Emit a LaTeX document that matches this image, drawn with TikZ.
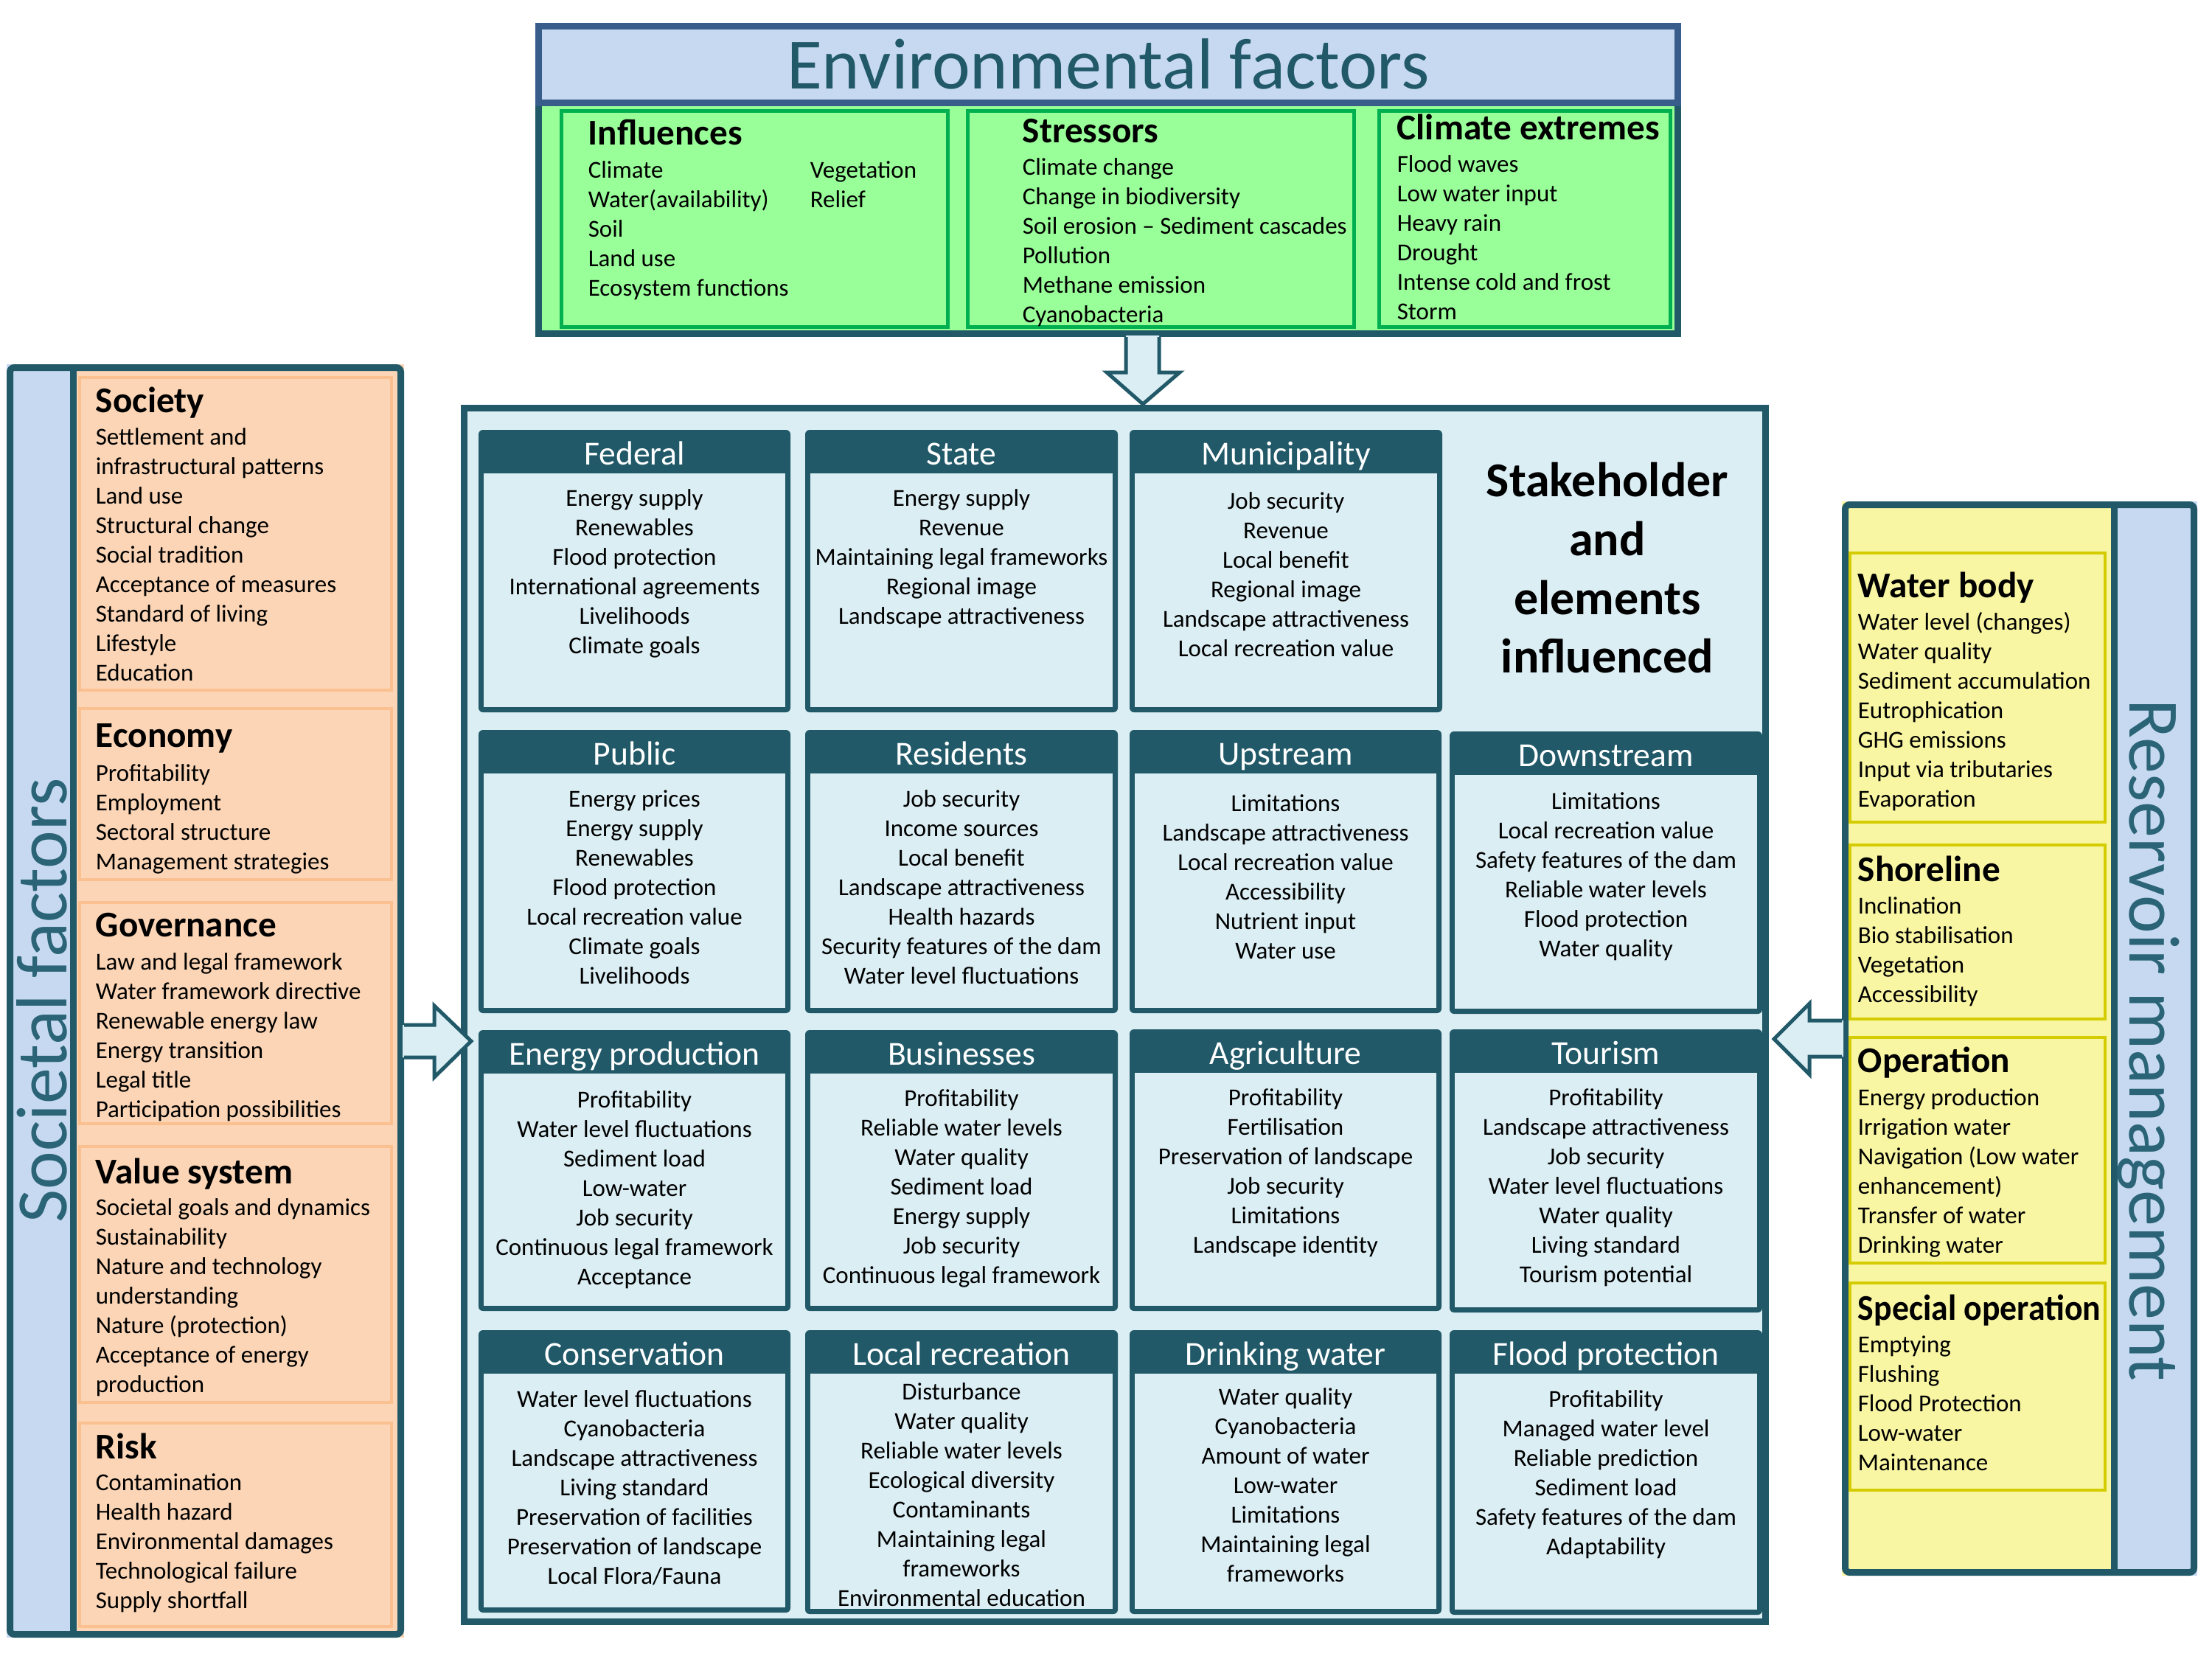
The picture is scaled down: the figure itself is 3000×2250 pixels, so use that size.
\documentclass[tikz,border=0pt]{standalone}
\usepackage{fontspec}
\setmainfont{Carlito}
\definecolor{tealx}{HTML}{215968}
\definecolor{sidetxt}{HTML}{2A6476}
\definecolor{aqua}{HTML}{DBEEF4}
\definecolor{lblue}{HTML}{C6D9F1}
\definecolor{orfill}{HTML}{FBD5B5}
\definecolor{ordraw}{HTML}{FAC090}
\definecolor{gfill}{HTML}{99FF99}
\definecolor{gdraw}{HTML}{00B050}
\definecolor{hblue}{HTML}{385D8A}
\definecolor{yfill}{HTML}{F8F6A2}
\definecolor{ydraw}{HTML}{D4CC00}
\tikzset{
  bigtxt/.style={font=\fontsize{24.5}{29}\selectfont, text=tealx, inner sep=0pt, anchor=base},
  sidelbl/.style={font=\fontsize{24.5}{29}\selectfont, text=sidetxt, inner sep=0pt, anchor=base},
  ptitle/.style={font=\fontsize{12.3}{15}\selectfont\bfseries, inner sep=0pt, anchor=base west},
  pitem/.style={font=\fontsize{8.25}{10}\selectfont, inner sep=0pt, anchor=base west},
  hdr/.style={font=\fontsize{11.4}{14}\selectfont, text=white, inner sep=0pt, anchor=base},
  btxt/.style={font=\fontsize{8.25}{10}\selectfont, inner sep=0pt, anchor=base},
  stk/.style={font=\fontsize{16.5}{20}\selectfont\bfseries, inner sep=0pt, anchor=base},
  thick border/.style={line width=2.25pt},
  blockarrow/.style={draw=tealx, line width=1.25pt, line join=miter},
  orbox/.style={fill=orfill, draw=ordraw, line width=1pt},
  ybox/.style={fill=yfill, draw=ydraw, line width=1pt},
  gbox/.style={fill=gfill, draw=gdraw, line width=1.25pt}
}
% stakeholder box: x1 y1 x2 y2 name title firstbaseline items
\newcommand\stkbox[8]{%
  \fill[tealx, rounded corners=1.5pt] (#1,#2) rectangle (#3,#4);
  \fill[aqua] (#1+7,#2+59) rectangle (#3-7,#4-7);
  \node[hdr] (#5) at ({(#1+#3)/2},#2+47) {#6};
  \foreach \itm [count=\i from 0] in {#8}
    \node[btxt] (#5-\i) at ({(#1+#3)/2},#7+40*\i) {\itm};
}
% panel text: x titlebaseline name title firstbaseline items
\newcommand\ptext[6]{%
  \node[ptitle] (#3) at (#1,#2) {#4};
  \foreach \itm [count=\i from 0] in {#6}
    \node[pitem] (#3-\i) at (#1,#5+40*\i) {\itm};
}
\begin{document}
\begin{tikzpicture}[x=0.25pt, y=-0.25pt]
\useasboundingbox (0,0) rectangle (3000,2250);
\fill[white] (0,0) rectangle (3000,2250);

%% ---------------- Environmental factors ----------------
\fill[gfill] (726,135) rectangle (2280,457);
\draw[tealx, thick border] (730,139) rectangle (2275.5,452.5);
\draw[hblue, thick border, fill=lblue] (730,35.5) rectangle (2275.5,139);
\node[bigtxt] (envtitle) at (1503,120) {Environmental factors};

\draw[gbox] (761.5,150.5) rectangle (1285.5,443.5);
\draw[gbox] (1312.5,150.5) rectangle (1836.5,443.5);
\draw[gbox] (1870.5,150.5) rectangle (2265.5,443.5);

\ptext{797}{196}{infl}{Influences}{241}{Climate,Water(availability),Soil,Land use,Ecosystem functions}
\node[pitem] (infl-veg) at (1098,241) {Vegetation};
\node[pitem] (infl-rel) at (1098,281) {Relief};
\ptext{1386}{193}{stress}{Stressors}{237}{Climate change,Change in biodiversity,Soil erosion – Sediment cascades,Pollution,Methane emission,Cyanobacteria}
\ptext{1894}{189}{cext}{Climate extremes}{233}{Flood waves,Low water input,Heavy rain,Drought,Intense cold and frost,Storm}

%% ---------------- Central box ----------------
\draw[tealx, thick border, fill=aqua] (629.5,553.5) rectangle (2394.5,2199);

\stkbox{649}{583}{1072}{966}{fed}{Federal}{686}{Energy supply,Renewables,Flood protection,International agreements,Livelihoods,Climate goals}
\stkbox{1092}{583}{1516}{966}{state}{State}{686}{Energy supply,Revenue,Maintaining legal frameworks,Regional image,Landscape attractiveness}
\stkbox{1532}{583}{1956}{966}{muni}{Municipality}{690}{Job security,Revenue,Local benefit,Regional image,Landscape attractiveness,Local recreation value}

\node[stk] (stk1) at (2180,673) {Stakeholder};
\node[stk] (stk2) at (2180,753) {and};
\node[stk] (stk3) at (2180,833) {elements};
\node[stk] (stk4) at (2180,912) {influenced};

\stkbox{649}{990}{1072}{1374}{pub}{Public}{1094}{Energy prices,Energy supply,Renewables,Flood protection,Local recreation value,Climate goals,Livelihoods}
\stkbox{1092}{990}{1516}{1374}{res}{Residents}{1094}{Job security,Income sources,Local benefit,Landscape attractiveness,Health hazards,Security features of the dam,Water level fluctuations}
\stkbox{1532}{990}{1955}{1374}{up}{Upstream}{1100}{Limitations,Landscape attractiveness,Local recreation value,Accessibility,Nutrient input,Water use}
\stkbox{1966}{992}{2390}{1375}{down}{Downstream}{1097}{Limitations,Local recreation value,Safety features of the dam,Reliable water levels,Flood protection,Water quality}

\stkbox{649}{1397}{1072}{1778}{ep}{Energy production}{1502}{Profitability,Water level fluctuations,Sediment load,Low-water,Job security,Continuous legal framework,Acceptance}
\stkbox{1092}{1397}{1516}{1778}{bus}{Businesses}{1500}{Profitability,Reliable water levels,Water quality,Sediment load,Energy supply,Job security,Continuous legal framework}
\stkbox{1532}{1396}{1955}{1778}{agri}{Agriculture}{1499}{Profitability,Fertilisation,Preservation of landscape,Job security,Limitations,Landscape identity}
\stkbox{1966}{1396}{2390}{1780}{tour}{Tourism}{1499}{Profitability,Landscape attractiveness,Job security,Water level fluctuations,Water quality,Living standard,Tourism potential}

\stkbox{649}{1804}{1072}{2187}{cons}{Conservation}{1908}{Water level fluctuations,Cyanobacteria,Landscape attractiveness,Living standard,Preservation of facilities,Preservation of landscape,Local Flora/Fauna}
\stkbox{1092}{1804}{1516}{2189}{lrec}{Local recreation}{1898}{Disturbance,Water quality,Reliable water levels,Ecological diversity,Contaminants,Maintaining legal,frameworks,Environmental education}
\stkbox{1532}{1804}{1955}{2189}{dw}{Drinking water}{1905}{Water quality,Cyanobacteria,Amount of water,Low-water,Limitations,Maintaining legal,frameworks}
\stkbox{1966}{1804}{2390}{2190}{fp}{Flood protection}{1908}{Profitability,Managed water level,Reliable prediction,Sediment load,Safety features of the dam,Adaptability}

%% ---------------- Societal factors (left) ----------------
\fill[orfill] (9,494) rectangle (548,2221);
\fill[lblue] (9,494) rectangle (100,2221);
\draw[tealx, thick border, rounded corners=1.5pt] (13.5,498.5) rectangle (543.5,2216.5);
\draw[tealx, thick border] (99.5,498.5) -- (99.5,2216.5);
\node[sidelbl, rotate=90] (soclbl) at (91,1357) {Societal factors};

\draw[orbox] (108,512) rectangle (531,936);
\draw[orbox] (108,961) rectangle (531,1193);
\draw[orbox] (108,1224) rectangle (531,1524);
\draw[orbox] (108,1555) rectangle (531,1902);
\draw[orbox] (108,1930) rectangle (531,2206);

\ptext{129}{559}{soc}{Society}{603}{Settlement and,infrastructural patterns,Land use,Structural change,Social tradition,Acceptance of measures,Standard of living,Lifestyle,Education}
\ptext{129}{1013}{eco}{Economy}{1059}{Profitability,Employment,Sectoral structure,Management strategies}
\ptext{129}{1270}{gov}{Governance}{1315}{Law and legal framework,Water framework directive,Renewable energy law,Energy transition,Legal title,Participation possibilities}
\ptext{129}{1605}{val}{Value system}{1648}{Societal goals and dynamics,Sustainability,Nature and technology,understanding,Nature (protection),Acceptance of energy,production}
\ptext{129}{1978}{risk}{Risk}{2021}{Contamination,Health hazard,Environmental damages,Technological failure,Supply shortfall}

%% ---------------- Reservoir management (right) ----------------
\fill[yfill] (2498,680) rectangle (2980,2137);
\fill[lblue] (2867,680) rectangle (2980,2137);
\draw[tealx, thick border, rounded corners=1.5pt] (2502.5,684.5) rectangle (2975.5,2132.5);
\draw[tealx, thick border] (2867.5,684.5) -- (2867.5,2132.5);
\node[sidelbl, rotate=-90] (reslbl) at (2888,1411) {Reservoir management};

\draw[ybox] (2509,750) rectangle (2855,1115);
\draw[ybox] (2509,1146) rectangle (2855,1382);
\draw[ybox] (2509,1407) rectangle (2855,1713);
\draw[ybox] (2509,1740) rectangle (2855,2021);

\ptext{2519}{810}{wb}{Water body}{854}{Water level (changes),Water quality,Sediment accumulation,Eutrophication,GHG emissions,Input via tributaries,Evaporation}
\ptext{2519}{1195}{shore}{Shoreline}{1239}{Inclination,Bio stabilisation,Vegetation,Accessibility}
\ptext{2519}{1454}{oper}{Operation}{1499}{Energy production,Irrigation water,Navigation (Low water,enhancement),Transfer of water,Drinking water}
\ptext{2519}{1790}{spop}{\scalebox{0.93}[1]{Special operation}}{1834}{Emptying,Flushing,Flood Protection,Low-water,Maintenance}

%% ---------------- Block arrows ----------------
% down arrow from environmental factors
\fill[aqua] (1527,455) -- (1527,505) -- (1501,505) -- (1550,548) -- (1600,505) -- (1572,505) -- (1572,455) -- cycle;
\draw[blockarrow] (1527,457) -- (1527,505) -- (1501,505) -- (1550,548) -- (1600,505) -- (1572,505) -- (1572,457);
% right-pointing arrow from societal factors
\fill[aqua] (546,1390) -- (589,1390) -- (589,1364) -- (639,1412) -- (589,1461) -- (589,1434) -- (546,1434) -- cycle;
\draw[blockarrow] (548,1390) -- (589,1390) -- (589,1364) -- (639,1412) -- (589,1461) -- (589,1434) -- (548,1434);
% left-pointing arrow from reservoir management
\fill[aqua] (2500,1384) -- (2454,1384) -- (2454,1361) -- (2406,1409) -- (2454,1457) -- (2454,1433) -- (2500,1433) -- cycle;
\draw[blockarrow] (2498,1384) -- (2454,1384) -- (2454,1361) -- (2406,1409) -- (2454,1457) -- (2454,1433) -- (2498,1433);
\end{tikzpicture}
\end{document}
